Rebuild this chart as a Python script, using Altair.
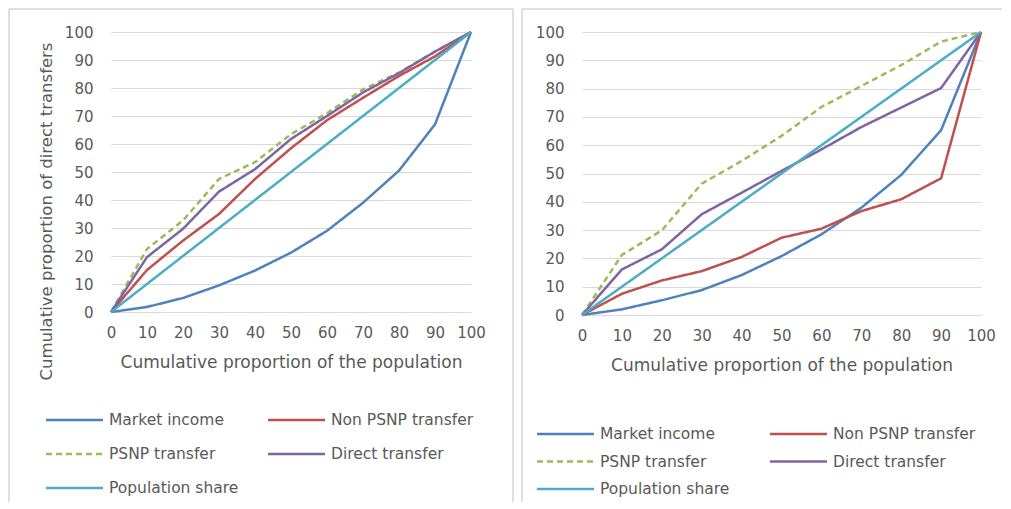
import altair as alt
import pandas as pd

# ---- data ----
pop_x = [0, 10, 20, 30, 40, 50, 60, 70, 80, 90, 100]
series_names = ["Market income", "Non PSNP transfer", "PSNP transfer",
                "Direct transfer", "Population share"]

# Left panel
market_a = [0, 1.8, 5, 9.5, 14.8, 21.2, 29, 39, 50.5, 67, 100]
nonpsnp_a = [0, 15, 25.5, 35, 47.5, 58.5, 68.5, 76.5, 84.3, 91.3, 100]
psnp_a = [0, 22.5, 32.7, 47.5, 53.5, 63.5, 71, 79.5, 85.5, 93, 100]
direct_a = [0, 19.6, 29.7, 43, 51, 61.8, 70, 78.4, 85.3, 93, 100]
share_a = [0, 10, 20, 30, 40, 50, 60, 70, 80, 90, 100]

# Right panel
market_b = [0, 2, 5.2, 8.8, 14.1, 20.8, 28.5, 37.9, 49.5, 65.3, 100]
nonpsnp_b = [0, 7.5, 12.2, 15.5, 20.5, 27.3, 30.5, 36.7, 40.9, 48.3, 100]
psnp_b = [0, 21.2, 29.9, 46.4, 54.4, 63.3, 73.5, 80.9, 88.3, 96.6, 100]
direct_b = [0, 16.1, 23.2, 35.6, 43.2, 50.9, 58.5, 66.4, 73.3, 80.2, 100]
share_b = [0, 10, 20, 30, 40, 50, 60, 70, 80, 90, 100]

tick_vals = [0, 10, 20, 30, 40, 50, 60, 70, 80, 90, 100]

colors = ["#4F81BD", "#C0504D", "#9BBB59", "#8064A2", "#4BACC6"]
dashes = [[1, 0], [1, 0], [6, 4], [1, 0], [1, 0]]

FONT = "DejaVu Sans"
TXT = "#595959"
FRAME = "#BFBFBF"

color_scale = alt.Scale(domain=series_names, range=colors)
dash_scale = alt.Scale(domain=series_names, range=dashes)


def make_df(lists):
    rows = []
    for name, vals in zip(series_names, lists):
        for i, (xv, yv) in enumerate(zip(pop_x, vals)):
            rows.append({"series": name, "x": xv, "y": yv, "order": i})
    return pd.DataFrame(rows)


legend_df = pd.DataFrame({
    "series": series_names,
    "col": [i % 2 for i in range(len(series_names))],
    "row": [i // 2 for i in range(len(series_names))],
})


def plot_layer(df, w, h, ytitle, frame_left, frame_right, frame_bottom, right_edge):
    x_axis = alt.Axis(values=tick_vals, grid=False, ticks=False, domain=False,
                      labelFont=FONT, labelFontSize=15, labelColor=TXT,
                      labelPadding=13, labelAngle=0, labelFlush=False,
                      title="Cumulative proportion of the population",
                      titleFont=FONT, titleFontSize=17, titleColor=TXT,
                      titleFontWeight="normal", titlePadding=14)
    y_kwargs = dict(values=tick_vals, grid=True, gridColor="#D9D9D9", gridWidth=1,
                    ticks=False, domain=False, labelFont=FONT, labelFontSize=15,
                    labelColor=TXT, labelPadding=18, labelFlush=False)
    if ytitle:
        y_axis = alt.Axis(title=ytitle, titleFont=FONT, titleFontSize=16.5,
                          titleColor=TXT, titleFontWeight="normal",
                          titlePadding=10, titleY=179, **y_kwargs)
    else:
        y_axis = alt.Axis(title=None, **y_kwargs)

    lines = alt.Chart(df).mark_line(strokeWidth=2.5).encode(
        x=alt.X("x:Q", scale=alt.Scale(domain=[0, 100], nice=False), axis=x_axis),
        y=alt.Y("y:Q", scale=alt.Scale(domain=[0, 100], nice=False), axis=y_axis),
        color=alt.Color("series:N", scale=color_scale, legend=None),
        strokeDash=alt.StrokeDash("series:N", scale=dash_scale, legend=None),
        order="order:Q",
    )
    # decorative panel frame (left/top[/right] edges)
    one = df.head(1)
    frame_top = alt.Chart(one).mark_rule(color=FRAME, strokeWidth=1).encode(
        x=alt.value(frame_left), x2=alt.value(frame_right), y=alt.value(-23))
    frame_l = alt.Chart(one).mark_rule(color=FRAME, strokeWidth=1).encode(
        x=alt.value(frame_left), y=alt.value(-23), y2=alt.value(frame_bottom))
    layers = [frame_top, frame_l]
    if right_edge:
        frame_r = alt.Chart(one).mark_rule(color=FRAME, strokeWidth=1).encode(
            x=alt.value(frame_right), y=alt.value(-23), y2=alt.value(frame_bottom))
        layers.append(frame_r)
    layers.append(lines)
    return alt.layer(*layers).properties(width=w, height=h)


def legend_layer(col_step, row_step, sym_off, txt_off):
    base = alt.Chart(legend_df).encode(
        x=alt.X("col:O", axis=None, scale=alt.Scale(type="point", padding=0)),
        y=alt.Y("row:O", axis=None, scale=alt.Scale(type="point", padding=0)),
    )
    sym = base.mark_point(shape="stroke", size=3249, strokeWidth=2.5, filled=False,
                          opacity=1, xOffset=sym_off).encode(
        color=alt.Color("series:N", scale=color_scale, legend=None),
        strokeDash=alt.StrokeDash("series:N", scale=dash_scale, legend=None),
    )
    txt = base.mark_text(align="left", baseline="middle", font=FONT, fontSize=15.5,
                         color=TXT, xOffset=txt_off).encode(text="series:N")
    return alt.layer(sym, txt).properties(width=col_step, height=2 * row_step)


left_plot = plot_layer(make_df([market_a, nonpsnp_a, psnp_a, direct_a, share_a]),
                       360, 280, "Cumulative proportion of direct transfers",
                       -102, 402, 470, True)
right_plot = plot_layer(make_df([market_b, nonpsnp_b, psnp_b, direct_b, share_b]),
                        399, 283, None, -60, 420, 470, False)

left = alt.vconcat(left_plot, legend_layer(222, 34, -36.5, -2),
                   spacing=108, bounds="flush")
right = alt.vconcat(right_plot, legend_layer(233, 27.5, -16.5, 18),
                    spacing=119, bounds="flush")

chart = alt.hconcat(left, right, spacing=7).properties(
    padding=0, background="white"
).configure_view(stroke="transparent", strokeWidth=0)

chart.save("out.html", embed_options={"renderer": "svg", "actions": False})
